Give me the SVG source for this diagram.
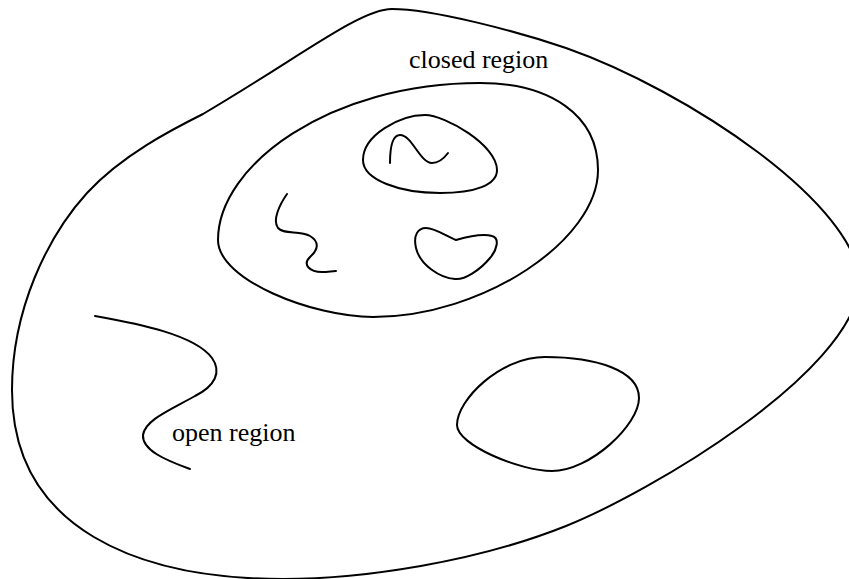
<svg xmlns="http://www.w3.org/2000/svg" width="849" height="579" viewBox="0 0 849 579">
<style>
.c{fill:none;stroke:#000;stroke-width:2;stroke-linecap:round;stroke-linejoin:round}
.t{font-family:"Liberation Serif","Times New Roman",serif;font-size:26px;fill:#000}
</style>
<rect width="849" height="579" fill="#fff"/>
<g id="outer-region">
<path class="c" d="M203,114 C300,57 360,9 392,9 C432,9 516,31 566,48 C686,90 860,205 860,285 C850,375 650,492 566,526 C476,562 363,579 283,579 C140,579 12,530 12,390 C12,310 47,237 87,193 C122,155 173,129 203,114 Z"/>
</g>
<g id="closed-region">
<path class="c" d="M218,240 C218,165 330,83 480,83 C550,83 598,115 598,170 C598,240 483,317 373,317 C313,317 218,280 218,240 Z"/>
<text class="t" x="409" y="68">closed region</text>
</g>
<g id="small-oval">
<path class="c" d="M363,160 C363,135 400,115 425,115 C445,115 497,145 497,170 C497,185 475,193 440,193 C400,193 363,180 363,160 Z"/>
<path class="c" d="M390,163 C390,150 392,135 400,135 C412,135 420,163 432,163 C440,163 445,157 448,153"/>
</g>
<g id="squiggle">
<path class="c" d="M287,194 C280,204 272,220 278,228 C284,235 300,230 310,236 C320,242 318,250 310,257 C302,265 310,272 322,272 C328,272 332,271 336,271"/>
</g>
<g id="heart-blob">
<path class="c" d="M456,240 C470,236 485,234 492,236 C500,238 497,250 490,258 C480,270 465,280 455,279 C440,278 420,265 416,248 C413,235 418,228 426,228 C435,228 448,237 456,240 Z"/>
</g>
<g id="lower-oval">
<path class="c" d="M545,357 C595,357 639,370 639,398 C639,425 590,471 552,471 C520,471 457,445 457,425 C457,400 500,357 545,357 Z"/>
</g>
<g id="open-region">
<path class="c" d="M95,316 C140,324 195,335 212,358 C222,372 215,386 195,396 C170,410 145,420 143,435 C142,450 165,460 190,469"/>
<text class="t" x="172" y="441">open region</text>
</g>
</svg>
